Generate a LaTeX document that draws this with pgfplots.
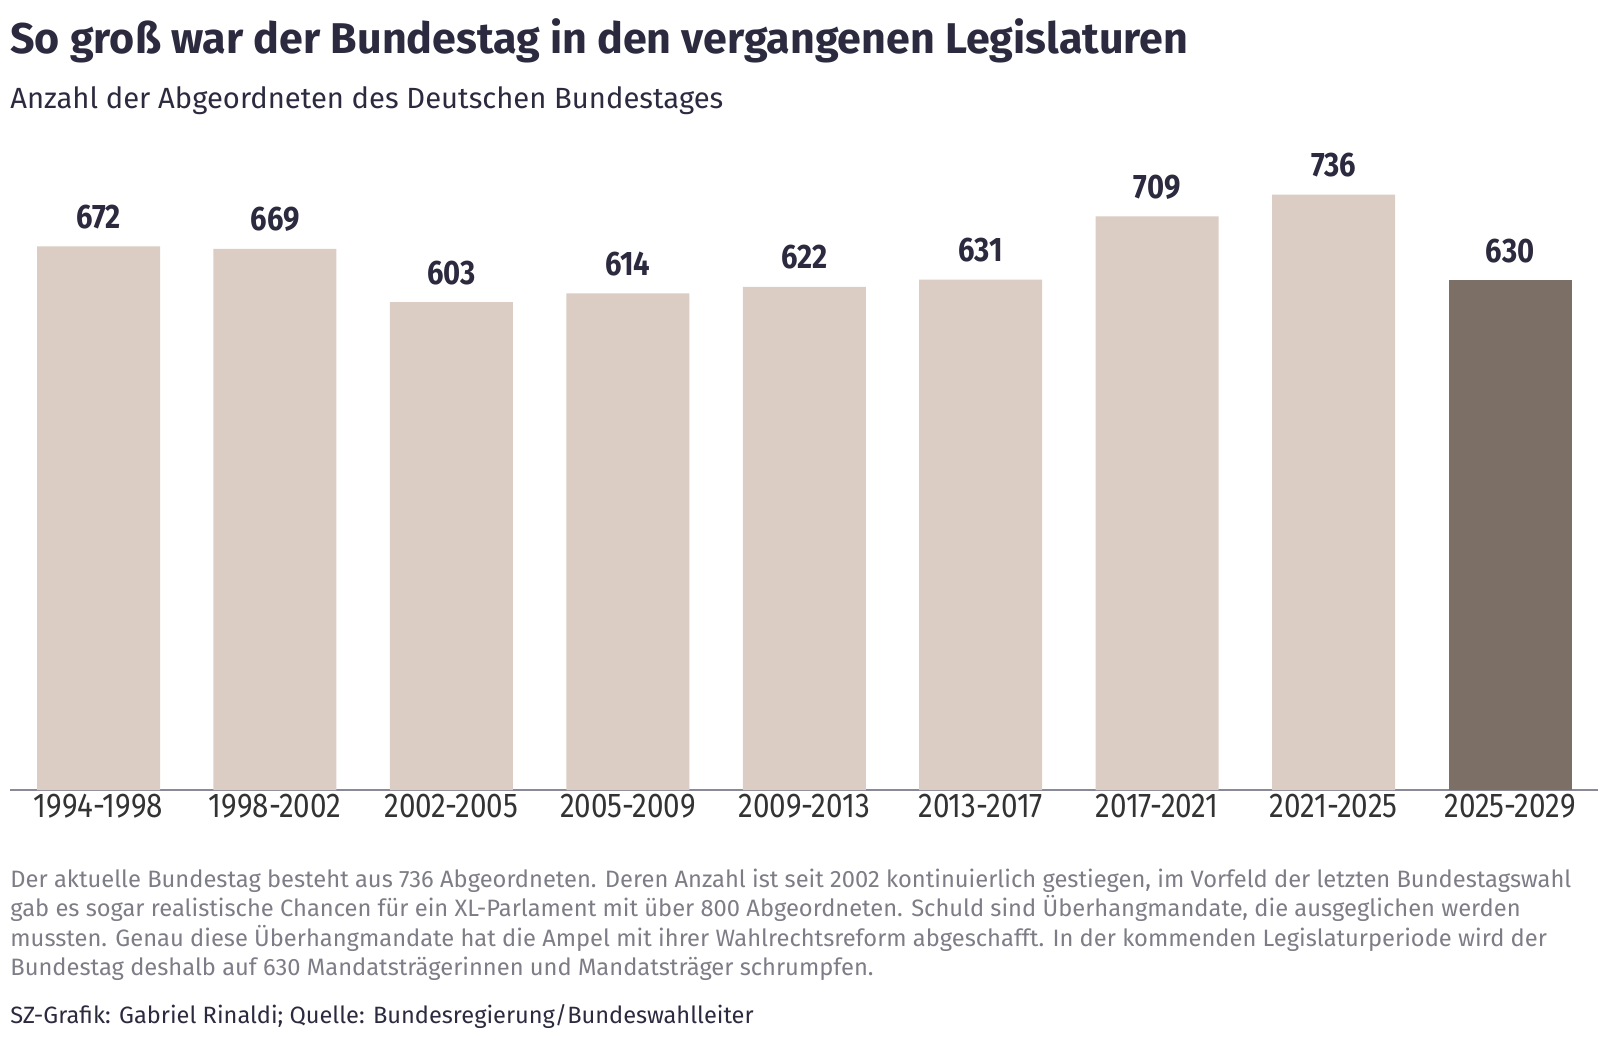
\documentclass[border=0pt]{standalone}
\usepackage{pgfplots}
\pgfplotsset{compat=1.18}
\usepackage{fontspec}
\setmainfont{Fira Sans}
\newfontfamily\cond[FakeStretch=0.86]{Fira Sans}
\definecolor{titlecol}{HTML}{2B2A3F}
\definecolor{barlight}{HTML}{DBCDC3}
\definecolor{bardark}{HTML}{7C6F66}
\definecolor{tickcol}{HTML}{333333}
\definecolor{axiscol}{HTML}{8A8A96}
\definecolor{bodycol}{HTML}{7D7D87}
\begin{document}
\begin{tikzpicture}
\path[use as bounding box] (0,0) rectangle (804pt,-522pt);
\node[anchor=base west, inner sep=0, text=titlecol, font=\fontsize{21.5}{24}\selectfont\bfseries] at (5pt,-27pt) {So groß war der Bundestag in den vergangenen Legislaturen};
\node[anchor=base west, inner sep=0, text=titlecol, font=\fontsize{14.6}{17}\selectfont] at (5pt,-54pt) {Anzahl der Abgeordneten des Deutschen Bundestages};
\begin{axis}[
  at={(5.15pt,-395pt)}, anchor=south west,
  scale only axis, width=794pt, height=323.6pt,
  xmin=-0.5, xmax=8.5, ymin=0, ymax=800,
  axis y line=none, axis x line=bottom,
  x axis line style={draw=axiscol, line width=1pt, -},
  xtick={0,...,8}, major tick length=0pt,
  xticklabels={1994-1998,1998-2002,2002-2005,2005-2009,2009-2013,2013-2017,2017-2021,2021-2025,2025-2029},
  xticklabel style={text=tickcol, font=\cond\fontsize{17.2}{20}\selectfont, anchor=north, yshift=-2pt, inner sep=0},
  ybar, bar width=61.5pt, bar shift=0pt,
  /pgf/number format/assume math mode=true,
  nodes near coords,
  every node near coord/.append style={text=titlecol, font=\cond\bfseries\fontsize{17}{19}\selectfont, anchor=base, yshift=9pt, inner sep=0},
  clip=false,
]
\addplot[fill=barlight, draw=none] coordinates {(0,672) (1,669) (2,603) (3,614) (4,622) (5,631) (6,709) (7,736)};
\addplot[fill=bardark, draw=none] coordinates {(8,630)};
\end{axis}
\begin{scope}[every node/.style={anchor=base west, inner sep=0, text=bodycol, font=\fontsize{11.85}{14}\selectfont}]
\node at (5pt,-443.5pt) {Der aktuelle Bundestag besteht aus 736 Abgeordneten. Deren Anzahl ist seit 2002 kontinuierlich gestiegen, im Vorfeld der letzten Bundestagswahl};
\node at (5pt,-458.3pt) {gab es sogar realistische Chancen für ein XL-Parlament mit über 800 Abgeordneten. Schuld sind Überhangmandate, die ausgeglichen werden};
\node at (5pt,-473.1pt) {mussten. Genau diese Überhangmandate hat die Ampel mit ihrer Wahlrechtsreform abgeschafft. In der kommenden Legislaturperiode wird der};
\node at (5pt,-487.9pt) {Bundestag deshalb auf 630 Mandatsträgerinnen und Mandatsträger schrumpfen.};
\node[text=titlecol, font=\fontsize{11.8}{14}\selectfont] at (5pt,-511.5pt) {SZ-Grafik: Gabriel Rinaldi; Quelle: Bundesregierung/Bundeswahlleiter};
\end{scope}
\end{tikzpicture}
\end{document}
